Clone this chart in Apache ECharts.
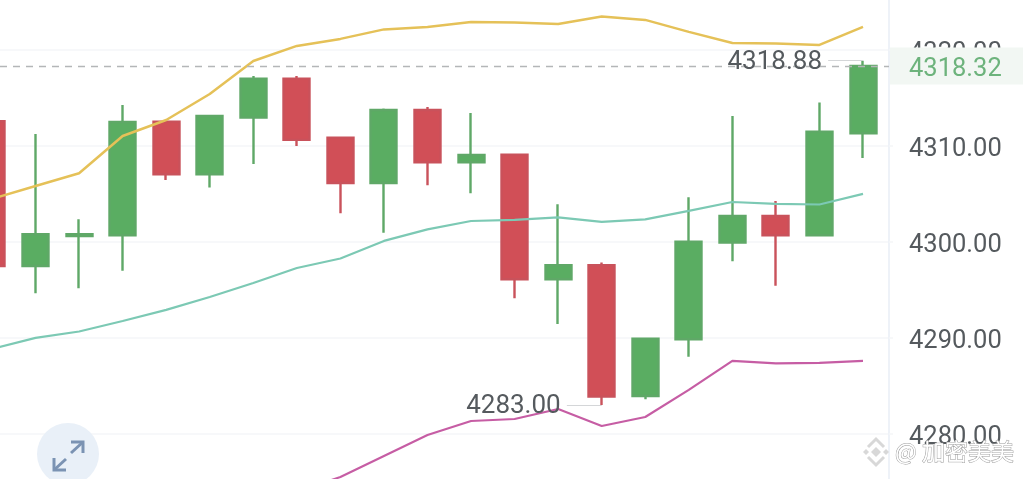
<!DOCTYPE html>
<html>
<head>
<meta charset="utf-8">
<style>html,body{margin:0;padding:0;background:#fff}#c{width:1023px;height:479px}</style>
<script src="https://cdn.jsdelivr.net/npm/echarts@6/dist/echarts.min.js"></script>
</head>
<body>
<div id="c"></div>
<script>
// [open, close, low, high]
const candles = [
  [4312.57,4297.48,4297.48,4312.57],
  [4297.48,4300.79,4294.64,4311.24],
  [4300.60,4300.80,4295.16,4302.35],
  [4300.68,4312.49,4296.99,4314.27],
  [4312.53,4307.04,4306.45,4312.55],
  [4307.04,4313.12,4305.65,4313.12],
  [4312.94,4317.01,4308.12,4317.29],
  [4317.01,4310.62,4309.99,4317.29],
  [4310.86,4306.13,4302.98,4310.98],
  [4306.13,4313.74,4300.95,4313.90],
  [4313.74,4308.29,4305.89,4314.06],
  [4308.29,4309.05,4305.06,4313.43],
  [4309.09,4296.09,4294.11,4309.09],
  [4296.09,4297.56,4291.44,4303.91],
  [4297.56,4283.86,4283.00,4297.83],
  [4283.93,4289.90,4283.59,4289.90],
  [4289.84,4300.02,4288.03,4304.64],
  [4299.91,4302.69,4297.97,4313.12],
  [4302.69,4300.68,4295.43,4304.26],
  [4300.68,4311.48,4300.68,4314.51],
  [4311.32,4318.32,4308.74,4318.88]
];
const maYellow = [4304.47,4305.82,4307.15,4311.03,4312.70,4315.41,4318.85,4320.42,4321.15,4322.14,4322.40,4322.92,4322.87,4322.71,4323.49,4323.13,4321.88,4320.73,4320.68,4320.52,4322.40];
const maTeal = [4288.83,4289.98,4290.65,4291.75,4292.90,4294.25,4295.71,4297.27,4298.26,4300.09,4301.29,4302.17,4302.28,4302.54,4302.07,4302.33,4303.22,4304.15,4303.95,4303.89,4304.99];
const maPurple = [null,null,null,null,null,null,null,4273.92,4275.49,4277.68,4279.86,4281.32,4281.53,4282.57,4280.80,4281.74,4284.56,4287.58,4287.32,4287.37,4287.58];
const lastPrice = 4318.32;
const highPrice = 4318.88;
const lowPrice = 4283.00;
const highIndex = 20;
const lowIndex = 14;
const watermark = '@ 加密美美';

const FONT = 'Roboto, "Noto Sans", sans-serif';
const indexed = a => a.map((v, i) => [i, v]);
const lineSeries = (data, color, width) => ({
  type: 'line', data: indexed(data), symbol: 'none', smooth: false, connectNulls: false,
  lineStyle: { color, width }, silent: true, z: 3
});
const leader = { color: '#d4d6d8', width: 1.2, type: 'solid' };

const chart = echarts.init(document.getElementById('c'), null, { renderer: 'canvas' });
chart.setOption({
  animation: false,
  backgroundColor: '#fff',
  grid: { left: 0, width: 889, top: -46, height: 575.6, outerBoundsMode: 'none', containLabel: false },
  xAxis: { type: 'value', min: 0.1837, max: 20.597, show: false, splitLine: { show: false } },
  yAxis: {
    type: 'value', position: 'right', min: 4270, max: 4330, interval: 10,
    axisLine: { show: true, onZero: false, lineStyle: { color: '#eef2f8', width: 2 } },
    axisTick: { show: true, length: 4, lineStyle: { color: '#f5f6f8', width: 1.5 } },
    splitLine: { show: true, lineStyle: { color: '#f5f6f8', width: 1.5 } },
    axisLabel: {
      margin: 20,
      formatter: v => '{t|' + v.toFixed(2) + '}',
      rich: { t: { fontFamily: FONT, fontSize: 25.5, color: '#555a5e', padding: [7, 0, 0, 0] } }
    }
  },
  series: [
    {
      type: 'candlestick',
      data: candles.map((c, i) => [i, c[0], c[1], c[2], c[3]]),
      encode: { x: 0, y: [1, 2, 3, 4] },
      barWidth: 26.5,
      clip: true,
      z: 2,
      itemStyle: {
        color: '#5aad62', color0: '#d14f57',
        borderColor: '#5fa867', borderColor0: '#c9525b', borderWidth: 2.4
      },
      markLine: {
        silent: true, symbol: 'none', animation: false, z: 5,
        data: [
          [
            { xAxis: 0.1837, yAxis: lastPrice,
              lineStyle: { color: '#b4b6b8', width: 1.4, type: [7, 6] },
              label: {
                show: true, position: 'end', distance: 1,
                formatter: () => '{t|' + lastPrice.toFixed(2) + '}',
                rich: { t: { fontFamily: FONT, fontSize: 25.5, color: '#6db37c', padding: [7, 0, 0, 0] } },
                backgroundColor: '#f2f7f3', padding: [2, 23, 2, 19]
              } },
            { xAxis: 20.597, yAxis: lastPrice }
          ],
          [
            { xAxis: highIndex - 0.8, yAxis: highPrice, lineStyle: leader, label: { show: false } },
            { xAxis: highIndex, yAxis: highPrice }
          ],
          [
            { xAxis: lowIndex - 0.8, yAxis: lowPrice, lineStyle: leader, label: { show: false } },
            { xAxis: lowIndex, yAxis: lowPrice }
          ]
        ]
      },
      markPoint: {
        silent: true, symbol: 'circle', symbolSize: 0, animation: false, z: 6,
        label: {
          show: true, position: 'left', distance: 41, offset: [0, 2],
          fontFamily: FONT, fontSize: 26, color: '#555a5e',
          formatter: p => p.value.toFixed(2)
        },
        data: [
          { coord: [highIndex, highPrice], value: highPrice },
          { coord: [lowIndex, lowPrice], value: lowPrice }
        ]
      }
    },
    lineSeries(maYellow, '#e5c158', 2.5),
    lineSeries(maTeal, '#7cc9b4', 2.2),
    lineSeries(maPurple, '#c65da4', 2.2)
  ],
  graphic: [
    { type: 'circle', shape: { cx: 68, cy: 454, r: 31 }, style: { fill: '#e9f0f8' }, z: 20 },
    { type: 'polyline', shape: { points: [[71, 453], [83, 442]] }, style: { stroke: '#7b93b3', lineWidth: 3, fill: null }, z: 21 },
    { type: 'polyline', shape: { points: [[71, 442], [83, 442], [83, 453]] }, style: { stroke: '#7b93b3', lineWidth: 3, fill: null }, z: 21 },
    { type: 'polyline', shape: { points: [[54, 470], [66, 459]] }, style: { stroke: '#7b93b3', lineWidth: 3, fill: null }, z: 21 },
    { type: 'polyline', shape: { points: [[54, 458], [54, 470], [66, 470]] }, style: { stroke: '#7b93b3', lineWidth: 3, fill: null }, z: 21 },
    { type: 'polygon', shape: { points: [[876, 447], [881, 452], [876, 457], [871, 452]] }, style: { fill: '#d8d8d8' }, z: 20 },
    { type: 'polyline', shape: { points: [[868, 447], [876, 439], [884, 447]] }, style: { stroke: '#d8d8d8', lineWidth: 3, fill: null }, z: 20 },
    { type: 'polyline', shape: { points: [[868, 457], [876, 465], [884, 457]] }, style: { stroke: '#d8d8d8', lineWidth: 3, fill: null }, z: 20 },
    { type: 'polygon', shape: { points: [[866, 449], [869, 452], [866, 455], [863, 452]] }, style: { fill: '#d8d8d8' }, z: 20 },
    { type: 'polygon', shape: { points: [[886, 449], [889, 452], [886, 455], [883, 452]] }, style: { fill: '#d8d8d8' }, z: 20 },
    { type: 'text', x: 895, y: 451, z: 22, style: {
      text: watermark, fill: '#ffffff', stroke: '#9a9a9a', lineWidth: 1,
      font: '23px "Noto Sans CJK SC", sans-serif', textVerticalAlign: 'middle', textAlign: 'left'
    } }
  ]
});
</script>
</body>
</html>
